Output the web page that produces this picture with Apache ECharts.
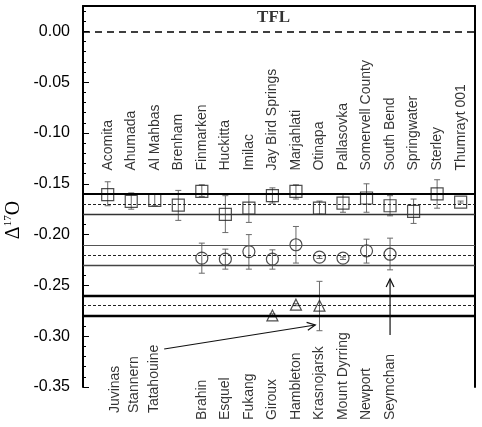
<!doctype html>
<html>
<head>
<meta charset="utf-8">
<title>D17O</title>
<script src="https://cdn.jsdelivr.net/npm/echarts@6/dist/echarts.min.js"></script>
<style>
	html, body { margin: 0; padding: 0; background: #fff; }
	#main { width: 482px; height: 427px; }
</style>
</head>
<body>
<div id="main"></div>
<script type="text/javascript">
	// upper group (squares), names written above the points
	var topNames = ['Acomita', 'Ahumada', 'Al Mahbas', 'Brenham', 'Finmarken', 'Huckitta', 'Imilac', 'Jay Bird Springs',
		'Marjahlati', 'Otinapa', 'Pallasovka', 'Somervell County', 'South Bend', 'Springwater', 'Sterley', 'Thumrayt 001'];
	var topX = [1, 2, 3, 4, 5, 6, 7, 8, 9, 10, 11, 12, 13, 14, 15, 16];
	var squareVal = [-0.1607, -0.1673, -0.1663, -0.171, -0.1575, -0.180, -0.174, -0.1617, -0.1575, -0.174, -0.169, -0.164, -0.1716, -0.1772, -0.160, -0.168];
	var squareLo = [-0.1716, -0.175, -0.1716, -0.186, -0.1624, -0.198, -0.188, -0.169, -0.165, -0.180, -0.178, -0.178, -0.1815, -0.189, -0.174, -0.169];
	var squareHi = [-0.148, -0.159, -0.160, -0.1565, -0.151, -0.1617, -0.160, -0.154, -0.151, -0.167, -0.160, -0.150, -0.1617, -0.165, -0.146, -0.167];

	// lower group, names written under the axis
	var bottomNames = ['Juvinas', 'Stannern', 'Tatahouine', 'Brahin', 'Esquel', 'Fukang', 'Giroux', 'Hambleton',
		'Krasnojarsk', 'Mount Dyrring', 'Newport', 'Seymchan'];
	var bottomX = [1.31, 2.12, 2.97, 5, 6, 7, 8, 9, 10, 11, 12, 13];

	// circles
	var circleX = [5, 6, 7, 8, 9, 10, 11, 12, 13];
	var circleVal = [-0.2232, -0.2242, -0.2167, -0.2242, -0.210, -0.2222, -0.2232, -0.216, -0.2193];
	var circleLo = [-0.238, -0.234, -0.234, -0.234, -0.228, -0.2235, -0.2245, -0.228, -0.2347];
	var circleHi = [-0.2084, -0.2143, -0.200, -0.215, -0.192, -0.221, -0.222, -0.2045, -0.2035];

	// triangles
	var triX = [8, 9, 10];
	var triVal = [-0.2796, -0.269, -0.270];
	var triLo = [-0.281, -0.270, -0.2946];
	var triHi = [-0.278, -0.268, -0.246];

	// group mean and band lines [upper, mean, lower]
	var squareBand = [-0.158, -0.1663, -0.1755];
	var circleBand = [-0.2117, -0.2205, -0.2283];
	var triBand = [-0.261, -0.2717, -0.2827];
	var tflValue = 0;

	// arrows [x1, y1, x2, y2]
	var arrows = [
		[3.40, -0.3126, 9.82, -0.289], // Tatahouine
		[13, -0.2988, 13, -0.2436]     // Seymchan
	];

	var yTicks = [-0.35, -0.30, -0.25, -0.20, -0.15, -0.10, -0.05, 0.00];

	var SANS = 'Liberation Sans, Arial, sans-serif';
	var SERIF = 'Liberation Serif, Times New Roman, serif';

	function zip3(a, b, c) {
		var out = [];
		for (var i = 0; i < a.length; i++) out.push([a[i], b[i], c[i]]);
		return out;
	}

	// error bars with small caps
	function renderErr(params, api) {
		var x = api.value(0);
		var lo = api.coord([x, api.value(1)]);
		var hi = api.coord([x, api.value(2)]);
		var c = 3;
		var st = { stroke: '#6a6a6a', lineWidth: 1 };
		return {
			type: 'group',
			children: [
				{ type: 'line', shape: { x1: hi[0], y1: hi[1], x2: lo[0], y2: lo[1] }, style: st },
				{ type: 'line', shape: { x1: hi[0] - c, y1: hi[1], x2: hi[0] + c, y2: hi[1] }, style: st },
				{ type: 'line', shape: { x1: lo[0] - c, y1: lo[1], x2: lo[0] + c, y2: lo[1] }, style: st }
			]
		};
	}

	// line with an open arrow head
	function renderArrow(params, api) {
		var p1 = api.coord([api.value(0), api.value(1)]);
		var p2 = api.coord([api.value(2), api.value(3)]);
		var a = Math.atan2(p2[1] - p1[1], p2[0] - p1[0]);
		var L = 9, h = 0.45;
		var st = { stroke: '#111', lineWidth: 1.2, fill: null };
		return {
			type: 'group',
			children: [
				{ type: 'line', shape: { x1: p1[0], y1: p1[1], x2: p2[0], y2: p2[1] }, style: st },
				{ type: 'polyline', shape: { points: [
					[p2[0] - L * Math.cos(a - h), p2[1] - L * Math.sin(a - h)],
					[p2[0], p2[1]],
					[p2[0] - L * Math.cos(a + h), p2[1] - L * Math.sin(a + h)]
				] }, style: st }
			]
		};
	}

	function bandLine(v, w, color, type) {
		return { yAxis: v, lineStyle: { width: w, color: color, type: type } };
	}

	var topLabels = [];
	for (var i = 0; i < topNames.length; i++) topLabels.push([topX[i], -0.137, topNames[i]]);
	var bottomLabels = [];
	for (var j = 0; j < bottomNames.length; j++) {
		bottomLabels.push([bottomX[j], j < 3 ? -0.3757 : -0.3826, bottomNames[j]]);
	}

	var chart = echarts.init(document.getElementById('main'));
	var option = {
		animation: false,
		backgroundColor: '#fff',
		grid: { left: 83, right: 7, top: 6, bottom: 40 },
		xAxis: {
			type: 'value',
			position: 'top',
			min: -0.05,
			max: 16.61,
			axisLine: { show: true, onZero: false, lineStyle: { color: '#000', width: 2 } },
			axisTick: { show: false },
			axisLabel: { show: false },
			splitLine: { show: false }
		},
		yAxis: [{
			type: 'value',
			min: -0.35,
			max: 0.025,
			interval: 0.05,
			axisLine: { show: true, onZero: false, lineStyle: { color: '#000', width: 2 } },
			axisTick: { show: true, inside: true, length: 6, lineStyle: { color: '#000', width: 1 } },
			minorTick: { show: true, splitNumber: 5, length: 3, lineStyle: { color: '#000', width: 1 } },
			splitLine: { show: false },
			axisLabel: {
				color: '#000',
				fontSize: 16,
				fontFamily: SANS,
				margin: 13,
				formatter: function (v) {
					if (v > 0.001) return '';
					if (Math.abs(v) < 1e-9) return '0.00';
					return v.toFixed(2);
				}
			}
		}, {
			type: 'value',
			position: 'right',
			min: -0.35,
			max: 0.025,
			axisLine: { show: true, onZero: false, lineStyle: { color: '#000', width: 2 } },
			axisTick: { show: false },
			axisLabel: { show: false },
			splitLine: { show: false }
		}],
		graphic: [{
			type: 'text',
			x: 14,
			y: 220,
			rotation: Math.PI / 2,
			style: {
				text: '{a|\u0394}{b|17}{a|O}',
				align: 'center',
				verticalAlign: 'middle',
				fill: '#000',
				rich: {
					a: { fontSize: 20, fontFamily: SERIF, fill: '#000', lineHeight: 22 },
					b: { fontSize: 11, fontFamily: SERIF, fill: '#000', verticalAlign: 'top', lineHeight: 22 }
				}
			}
		}],
		series: [{
			// reference lines
			type: 'line',
			data: [],
			silent: true,
			markLine: {
				silent: true,
				symbol: 'none',
				label: { show: false },
				data: [
					bandLine(tflValue, 1.6, '#000', [7, 5]),
					bandLine(squareBand[0], 2, '#000', 'solid'),
					bandLine(squareBand[1], 1, '#222', [3, 2]),
					bandLine(squareBand[2], 1.4, '#333', 'solid'),
					bandLine(circleBand[0], 1.2, '#555', 'solid'),
					bandLine(circleBand[1], 1, '#222', [3, 2]),
					bandLine(circleBand[2], 1.4, '#444', 'solid'),
					bandLine(triBand[0], 2.4, '#000', 'solid'),
					bandLine(triBand[1], 1, '#222', [3, 2]),
					bandLine(triBand[2], 2.4, '#000', 'solid')
				]
			}
		}, {
			type: 'custom',
			renderItem: renderErr,
			encode: { x: 0, y: [1, 2] },
			data: zip3(topX, squareLo, squareHi).concat(zip3(circleX, circleLo, circleHi), zip3(triX, triLo, triHi)),
			z: 3
		}, {
			name: 'squares',
			type: 'scatter',
			symbol: 'rect',
			symbolSize: 12,
			itemStyle: { color: 'rgba(0,0,0,0)', borderColor: '#222', borderWidth: 1.2 },
			data: topX.map(function (x, k) { return [x, squareVal[k]]; }),
			z: 4
		}, {
			name: 'circles',
			type: 'scatter',
			symbol: 'circle',
			symbolSize: 12,
			itemStyle: { color: 'rgba(0,0,0,0)', borderColor: '#222', borderWidth: 1.2 },
			data: circleX.map(function (x, k) { return [x, circleVal[k]]; }),
			z: 4
		}, {
			name: 'triangles',
			type: 'scatter',
			symbol: 'triangle',
			symbolSize: 11,
			itemStyle: { color: 'rgba(0,0,0,0)', borderColor: '#222', borderWidth: 1.2 },
			data: triX.map(function (x, k) { return [x, triVal[k]]; }),
			z: 4
		}, {
			type: 'custom',
			renderItem: renderArrow,
			clip: false,
			encode: { x: [0, 2], y: [1, 3] },
			data: arrows,
			z: 5
		}, {
			// meteorite names
			type: 'scatter',
			symbolSize: 0,
			clip: false,
			silent: true,
			data: topLabels.concat(bottomLabels),
			label: {
				show: true,
				position: 'inside',
				rotate: 90,
				align: 'left',
				verticalAlign: 'middle',
				color: '#000',
				fontSize: 14,
				fontFamily: SANS,
				formatter: function (p) { return p.value[2]; }
			},
			z: 6
		}, {
			// TFL tag
			type: 'scatter',
			symbolSize: 0,
			clip: false,
			silent: true,
			data: [[8.05, 0.0138, 'TFL']],
			label: {
				show: true,
				position: 'inside',
				color: '#000',
				fontSize: 17,
				fontWeight: 'bold',
				fontFamily: SERIF,
				formatter: function (p) { return p.value[2]; }
			},
			z: 6
		}]
	};
	chart.setOption(option);
</script>
</body>
</html>
